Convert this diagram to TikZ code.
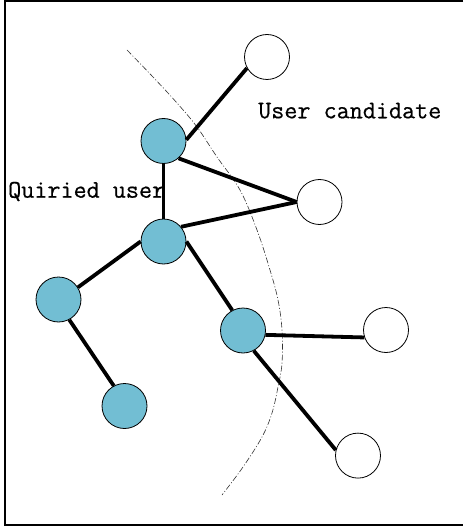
\documentclass[tikz,border=0pt]{standalone}
\usepackage{fontspec}
\newfontfamily\labelfont[FakeBold=0.5]{Latin Modern Mono}
\definecolor{userblue}{RGB}{114,190,211}
\tikzset{
  known/.style={circle, draw=black, line width=0.8pt, fill=userblue, minimum size=45pt, inner sep=0pt},
  cand/.style={circle, draw=black, line width=0.8pt, fill=white, minimum size=45pt, inner sep=0pt},
  link/.style={line width=3.8pt, black},
  boundary/.style={line width=0.6pt, black!80, dash pattern=on 6pt off 2pt on 1pt off 2pt},
  label/.style={anchor=base west, inner sep=0pt, font=\labelfont\fontsize{25.4}{27}\selectfont}
}
\begin{document}
\begin{tikzpicture}[x=1pt, y=-1pt]
  \useasboundingbox (0,0) rectangle (463,529);
  % frame, open on the right
  \draw[line width=1.4pt] (463,1) -- (5,1) -- (5,525) -- (463,525);

  % boundary between known users and candidates
  \draw[boundary] plot[smooth, tension=0.6] coordinates {
    (127,50) (153,77) (177,103) (197,127) (217,157) (240,190) (257,230)
    (270,270) (278,300) (282,330) (282,363) (278,387) (272,413)
    (262,437) (243,467) (222,495)};

  % known users
  \node[known] (b1) at (163.5,141) {};
  \node[known] (bc) at (163.5,241.5) {};
  \node[known] (bl) at (58.5,299.5) {};
  \node[known] (br) at (243,330.5) {};
  \node[known] (bb) at (124.5,406) {};

  % candidate users
  \node[cand] (wt) at (267,57) {};
  \node[cand] (wm) at (319.5,202) {};
  \node[cand] (wr) at (386,330) {};
  \node[cand] (wb) at (358,455.6) {};

  % links
  \draw[link] (b1.3) -- (wt.209);
  \draw[link] (b1.-49) -- (wm.180);
  \draw[link] (bc.40) -- (wm.180);
  \draw[link] (b1.-90) -- (bc.90);
  \draw[link] (bc.180) -- (bl.32);
  \draw[link] (bc.0) -- (br.118);
  \draw[link] (bl.-62) -- (bb.118);
  \draw[link] (br.-11) -- (wr.199);
  \draw[link] (br.-62) -- (wb.166);

  % labels
  \node[label] (lcand) at (258,118.3) {User candidate};
  \node[label] (lquery) at (8,197.7) {Quiried user};
\end{tikzpicture}
\end{document}
